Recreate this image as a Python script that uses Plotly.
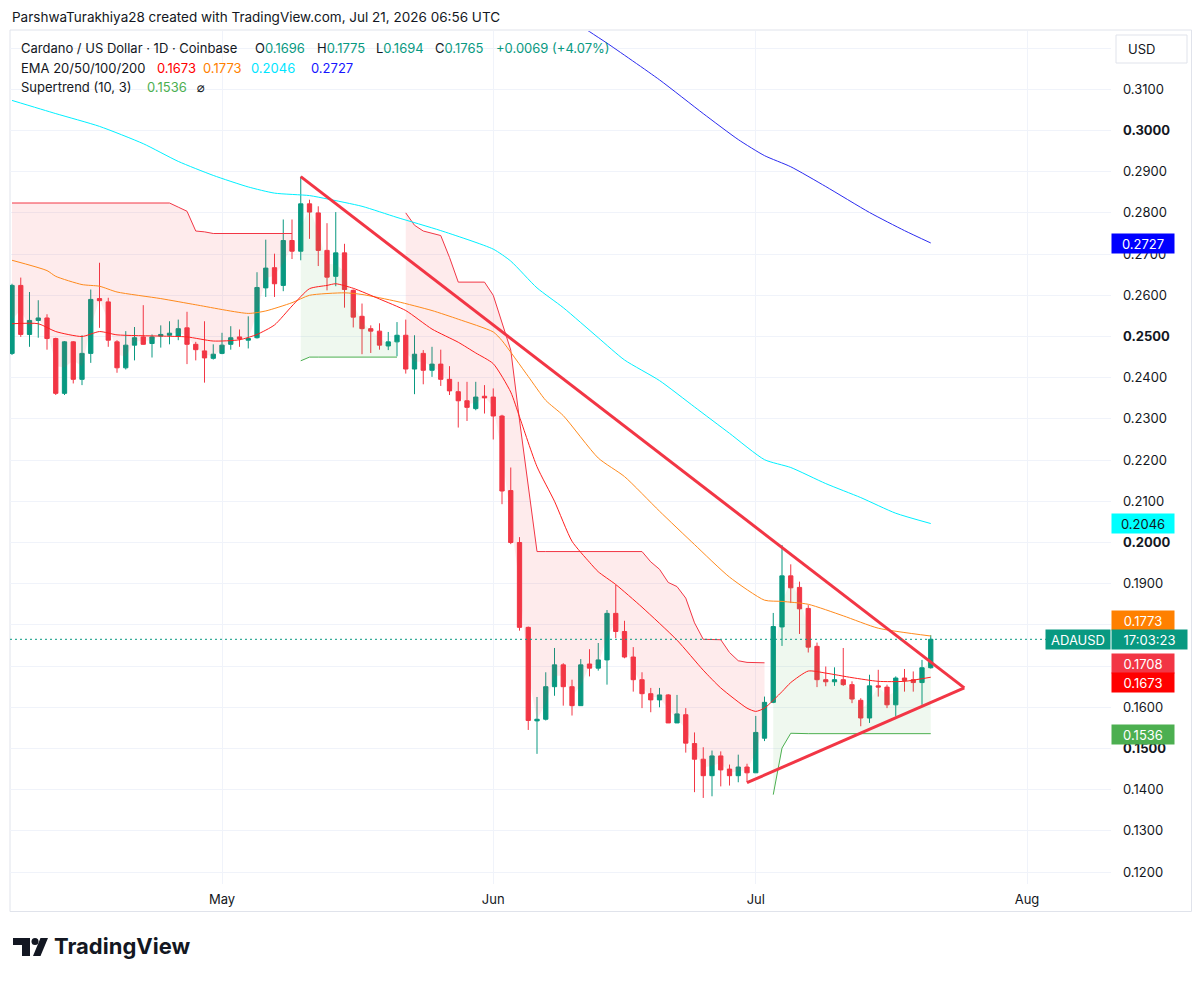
import plotly.graph_objects as go
import pandas as pd

# ---------------- data ----------------
start_date = "2026-04-07"

opens = [
    0.2459, 0.2624, 0.2505, 0.2539, 0.2545, 0.2495, 0.2362, 0.2487, 0.2396, 0.2459,
    0.2592, 0.2584, 0.2487, 0.2424, 0.2479, 0.2499, 0.2483, 0.2501, 0.2503, 0.2501,
    0.2521, 0.2481, 0.2465, 0.2447, 0.2459, 0.2481, 0.2499, 0.2491, 0.2497, 0.2618,
    0.2667, 0.2624, 0.2733, 0.2707, 0.2822, 0.2800, 0.2709, 0.2646, 0.2703, 0.2612,
    0.2549, 0.2519, 0.2513, 0.2477, 0.2487, 0.2503, 0.2421, 0.2459, 0.2418, 0.2433,
    0.2396, 0.2366, 0.2344, 0.2325, 0.2355, 0.2353, 0.2307, 0.2126, 0.2000, 0.1794,
    0.1567, 0.1571, 0.1650, 0.1703, 0.1650, 0.1604, 0.1705, 0.1695, 0.1715, 0.1828,
    0.1784, 0.1722, 0.1667, 0.1633, 0.1618, 0.1630, 0.1562, 0.1582, 0.1512, 0.1474,
    0.1434, 0.1482, 0.1450, 0.1434, 0.1455, 0.1441, 0.1525, 0.1612, 0.1795, 0.1919,
    0.1891, 0.1840, 0.1748, 0.1667, 0.1662, 0.1667, 0.1655, 0.1617, 0.1574, 0.1652,
    0.1649, 0.1606, 0.1671, 0.1667, 0.1660, 0.1696]

highs = [
    0.2628, 0.2643, 0.2608, 0.2588, 0.2554, 0.2497, 0.2489, 0.2489, 0.2503, 0.2614,
    0.2679, 0.2594, 0.2491, 0.2513, 0.2523, 0.2576, 0.2505, 0.2527, 0.2537, 0.2541,
    0.2560, 0.2487, 0.2537, 0.2481, 0.2509, 0.2525, 0.2517, 0.2549, 0.2656, 0.2735,
    0.2701, 0.2784, 0.2784, 0.2888, 0.2832, 0.2816, 0.2775, 0.2802, 0.2725, 0.2614,
    0.2580, 0.2527, 0.2532, 0.2511, 0.2535, 0.2541, 0.2503, 0.2467, 0.2475, 0.2468,
    0.2428, 0.2390, 0.2390, 0.2390, 0.2382, 0.2374, 0.2310, 0.2182, 0.2013, 0.1796,
    0.1625, 0.1685, 0.1744, 0.1707, 0.1667, 0.1717, 0.1741, 0.1756, 0.1836, 0.1897,
    0.1810, 0.1746, 0.1685, 0.1647, 0.1647, 0.1632, 0.1630, 0.1598, 0.1539, 0.1503,
    0.1495, 0.1493, 0.1461, 0.1485, 0.1463, 0.1579, 0.1626, 0.1829, 0.1994, 0.1947,
    0.1905, 0.1848, 0.1757, 0.1699, 0.1697, 0.1744, 0.1663, 0.1622, 0.1679, 0.1691,
    0.1655, 0.1675, 0.1693, 0.1687, 0.1715, 0.1775]

lows = [
    0.2455, 0.2499, 0.2475, 0.2497, 0.2468, 0.2358, 0.2358, 0.2386, 0.2382, 0.2436,
    0.2521, 0.2475, 0.2412, 0.2420, 0.2442, 0.2480, 0.2449, 0.2473, 0.2481, 0.2491,
    0.2433, 0.2442, 0.2388, 0.2444, 0.2457, 0.2468, 0.2475, 0.2471, 0.2495, 0.2596,
    0.2596, 0.2610, 0.2688, 0.2685, 0.2737, 0.2671, 0.2612, 0.2622, 0.2570, 0.2522,
    0.2457, 0.2460, 0.2468, 0.2467, 0.2452, 0.2410, 0.2360, 0.2384, 0.2402, 0.2380,
    0.2358, 0.2279, 0.2295, 0.2321, 0.2313, 0.2250, 0.2093, 0.1996, 0.1786, 0.1545,
    0.1487, 0.1568, 0.1628, 0.1604, 0.1580, 0.1604, 0.1675, 0.1689, 0.1655, 0.1768,
    0.1719, 0.1638, 0.1598, 0.1588, 0.1600, 0.1562, 0.1562, 0.1490, 0.1394, 0.1380,
    0.1384, 0.1408, 0.1410, 0.1418, 0.1418, 0.1441, 0.1518, 0.1610, 0.1749, 0.1853,
    0.1778, 0.1733, 0.1649, 0.1651, 0.1652, 0.1652, 0.1610, 0.1554, 0.1562, 0.1626,
    0.1598, 0.1578, 0.1638, 0.1638, 0.1606, 0.1694]

closes = [
    0.2624, 0.2505, 0.2539, 0.2545, 0.2495, 0.2362, 0.2487, 0.2396, 0.2459, 0.2590,
    0.2587, 0.2491, 0.2424, 0.2479, 0.2497, 0.2481, 0.2499, 0.2505, 0.2508, 0.2519,
    0.2481, 0.2468, 0.2448, 0.2457, 0.2479, 0.2497, 0.2494, 0.2495, 0.2619, 0.2666,
    0.2628, 0.2733, 0.2707, 0.2822, 0.2802, 0.2709, 0.2644, 0.2703, 0.2614, 0.2547,
    0.2519, 0.2513, 0.2479, 0.2487, 0.2503, 0.2421, 0.2457, 0.2418, 0.2433, 0.2396,
    0.2368, 0.2344, 0.2328, 0.2353, 0.2351, 0.2307, 0.2125, 0.2000, 0.1794, 0.1568,
    0.1571, 0.1650, 0.1703, 0.1650, 0.1604, 0.1703, 0.1695, 0.1715, 0.1828, 0.1784,
    0.1722, 0.1667, 0.1633, 0.1618, 0.1630, 0.1562, 0.1584, 0.1513, 0.1474, 0.1434,
    0.1482, 0.1448, 0.1434, 0.1455, 0.1441, 0.1539, 0.1612, 0.1796, 0.1919, 0.1890,
    0.1839, 0.1746, 0.1667, 0.1662, 0.1667, 0.1655, 0.1620, 0.1574, 0.1652, 0.1649,
    0.1606, 0.1671, 0.1665, 0.1660, 0.1696, 0.1765]

# Supertrend (10, 3): down-trend line and up-trend line, one value per candle (None = not drawn)
st_down = ([0.2824] * 19 + [0.2814, 0.2804, 0.2756, 0.2754] + [0.2750] * 10
           + [None] * 12
           + [0.2800, 0.2770, 0.2756, 0.2750, 0.2745, 0.2692, 0.2632, 0.2632, 0.2632, 0.2632,
              0.2600, 0.2535, 0.2467, 0.2297, 0.2135, 0.1978]
           + [0.1978] * 12
           + [0.1953, 0.1935, 0.1903, 0.1893, 0.1865, 0.1805, 0.1765, 0.1764, 0.1764, 0.1733,
              0.1713, 0.1709, 0.1709, 0.1708]
           + [None] * 19)
st_up = ([None] * 33
         + [0.2441] + [0.2450] * 11
         + [None] * 42
         + [0.1388, 0.1501, 0.1537] + [0.1536] * 16)

# EMA lines
ema20_dates = ["2026-04-07", "2026-04-10", "2026-04-12", "2026-04-15", "2026-04-17", "2026-04-19",
               "2026-04-24", "2026-04-27", "2026-04-30", "2026-05-03", "2026-05-05", "2026-05-07",
               "2026-05-09", "2026-05-11", "2026-05-13", "2026-05-14", "2026-05-16", "2026-05-19",
               "2026-05-22", "2026-05-25", "2026-05-28", "2026-05-30", "2026-06-01", "2026-06-03",
               "2026-06-04", "2026-06-06", "2026-06-08", "2026-06-10", "2026-06-12", "2026-06-13",
               "2026-06-15", "2026-06-18", "2026-06-22", "2026-06-25", "2026-06-27", "2026-06-30",
               "2026-07-01", "2026-07-02", "2026-07-04", "2026-07-05", "2026-07-07", "2026-07-09",
               "2026-07-12", "2026-07-15", "2026-07-18", "2026-07-21"]
ema20_vals = [0.2531, 0.2531, 0.2512, 0.2500, 0.2512, 0.2504, 0.2501, 0.2499, 0.2489, 0.2492,
              0.2505, 0.2528, 0.2574, 0.2616, 0.2624, 0.2628, 0.2617, 0.2591, 0.2563, 0.2518,
              0.2486, 0.2460, 0.2434, 0.2365, 0.2305, 0.2184, 0.2100, 0.2003, 0.1952, 0.1929,
              0.1898, 0.1843, 0.1763, 0.1690, 0.1647, 0.1598, 0.1590, 0.1598, 0.1638, 0.1660,
              0.1688, 0.1683, 0.1672, 0.1663, 0.1663, 0.1673]

ema50_dates = ["2026-04-07", "2026-04-11", "2026-04-12", "2026-04-15", "2026-04-17", "2026-04-19",
               "2026-04-24", "2026-04-28", "2026-05-04", "2026-05-06", "2026-05-09", "2026-05-11",
               "2026-05-15", "2026-05-17", "2026-05-21", "2026-05-25", "2026-05-28", "2026-06-01",
               "2026-06-02", "2026-06-05", "2026-06-07", "2026-06-09", "2026-06-13", "2026-06-16",
               "2026-06-20", "2026-06-24", "2026-06-28", "2026-07-02", "2026-07-04", "2026-07-07",
               "2026-07-11", "2026-07-15", "2026-07-21"]
ema50_vals = [0.2685, 0.2660, 0.2646, 0.2626, 0.2622, 0.2608, 0.2592, 0.2577, 0.2556, 0.2562,
              0.2582, 0.2600, 0.2606, 0.2602, 0.2585, 0.2563, 0.2542, 0.2511, 0.2490, 0.2403,
              0.2345, 0.2308, 0.2205, 0.2160, 0.2076, 0.1995, 0.1916, 0.1860, 0.1857, 0.1850,
              0.1822, 0.1792, 0.1773]

ema100_dates = ["2026-04-07", "2026-04-12", "2026-04-17", "2026-04-22", "2026-04-26", "2026-04-30",
                "2026-05-04", "2026-05-07", "2026-05-11", "2026-05-13", "2026-05-17", "2026-05-21",
                "2026-05-26", "2026-06-01", "2026-06-03", "2026-06-06", "2026-06-09", "2026-06-13",
                "2026-06-16", "2026-06-20", "2026-06-24", "2026-06-28", "2026-07-02", "2026-07-05",
                "2026-07-09", "2026-07-13", "2026-07-17", "2026-07-21"]
ema100_vals = [0.3073, 0.3041, 0.3010, 0.2968, 0.2925, 0.2891, 0.2863, 0.2848, 0.2842, 0.2834,
               0.2816, 0.2789, 0.2757, 0.2712, 0.2683, 0.2618, 0.2570, 0.2497, 0.2443, 0.2393,
               0.2329, 0.2265, 0.2201, 0.2182, 0.2143, 0.2109, 0.2071, 0.2046]

ema200_dates = ["2026-06-06", "2026-06-12", "2026-06-14", "2026-06-20", "2026-06-25", "2026-06-29",
                "2026-07-02", "2026-07-05", "2026-07-09", "2026-07-14", "2026-07-18", "2026-07-21"]
ema200_vals = [0.3330, 0.3240, 0.3212, 0.3123, 0.3041, 0.2978, 0.2939, 0.2912, 0.2864, 0.2801,
               0.2757, 0.2727]

# hand-drawn triangle lines
trend_down_dates = ["2026-05-10", "2026-07-24 20:00"]
trend_down_vals = [0.2888, 0.1647]
trend_up_dates = ["2026-06-30", "2026-07-24 20:00"]
trend_up_vals = [0.1417, 0.1647]

month_ticks = ["2026-05-01", "2026-06-01", "2026-07-01", "2026-08-01"]
month_labels = ["May", "Jun", "Jul", "Aug"]
price_ticks = [0.12, 0.13, 0.14, 0.15, 0.16, 0.17, 0.18, 0.19, 0.20, 0.21, 0.22,
               0.23, 0.24, 0.25, 0.26, 0.27, 0.28, 0.29, 0.30, 0.31, 0.32]
bold_ticks = [0.15, 0.20, 0.25, 0.30]
hidden_ticks = [0.17, 0.18, 0.32]

# axis-side value labels: (text, price-label centre, background, text colour)
last_ema20, last_ema50, last_ema100, last_ema200 = 0.1673, 0.1773, 0.2046, 0.2727
st_last_down, st_last_up = 0.1708, 0.1536

# ---------------- styling ----------------
UP = "#089981"
DOWN = "#F23645"
TXT = "#131722"
GRID = "#F0F3FA"
FONT = "Inter, 'DejaVu Sans', sans-serif"

W, H = 1204, 981
PL, PR, PT, PB = 10, 1111, 31, 884  # plot area in pixels


def fx(x):
    return (x - PL) / (PR - PL)


def fy(y):
    return (PB - y) / (PB - PT)


dates = pd.date_range(start_date, periods=len(opens), freq="D")
mid = [(o + c) / 2 for o, c in zip(opens, closes)]

fig = go.Figure()


def segments(vals):
    segs, cur = [], []
    for i, v in enumerate(vals):
        if v is None:
            if cur:
                segs.append(cur)
                cur = []
        else:
            cur.append(i)
    if cur:
        segs.append(cur)
    return segs


for vals, col, fillc in [(st_down, "#F23645", "rgba(242,54,69,0.10)"),
                         (st_up, "#4CAF50", "rgba(76,175,80,0.09)")]:
    for seg in segments(vals):
        xs = [dates[i] for i in seg]
        fig.add_trace(go.Scatter(x=xs, y=[mid[i] for i in seg], mode="lines",
                                 line=dict(width=0, color="rgba(0,0,0,0)"),
                                 hoverinfo="skip", showlegend=False))
        fig.add_trace(go.Scatter(x=xs, y=[vals[i] for i in seg], mode="lines",
                                 line=dict(color=col, width=1), fill="tonexty",
                                 fillcolor=fillc, hoverinfo="skip", showlegend=False))

for d, v, c in [(ema200_dates, ema200_vals, "#2B2BF0"),
                (ema100_dates, ema100_vals, "#00F0FF"),
                (ema50_dates, ema50_vals, "#FF8A1C"),
                (ema20_dates, ema20_vals, "#FF1F1F")]:
    fig.add_trace(go.Scatter(x=d, y=v, mode="lines",
                             line=dict(color=c, width=1, shape="spline", smoothing=0.6),
                             hoverinfo="skip", showlegend=False))

fig.add_trace(go.Candlestick(
    x=dates, open=opens, high=highs, low=lows, close=closes,
    increasing=dict(line=dict(color=UP, width=1), fillcolor=UP),
    decreasing=dict(line=dict(color=DOWN, width=1), fillcolor=DOWN),
    whiskerwidth=0, hoverinfo="skip", showlegend=False))

for d, v in [(trend_down_dates, trend_down_vals), (trend_up_dates, trend_up_vals)]:
    fig.add_trace(go.Scatter(x=d, y=v, mode="lines", line=dict(color="#F23645", width=3),
                             hoverinfo="skip", showlegend=False))

# ---------------- layout ----------------
ticktext = []
for t in price_ticks:
    if any(abs(t - h) < 1e-9 for h in hidden_ticks):
        ticktext.append("")
    elif any(abs(t - b) < 1e-9 for b in bold_ticks):
        ticktext.append("<b>%.4f</b>" % t)
    else:
        ticktext.append("%.4f" % t)

fig.update_layout(
    width=W, height=H,
    margin=dict(l=PL, r=W - PR, t=PT, b=H - PB),
    paper_bgcolor="white", plot_bgcolor="white",
    showlegend=False,
    font=dict(family=FONT, color=TXT, size=13),
)
fig.update_xaxes(
    type="date", range=["2026-04-06 18:30", "2026-08-10 14:24"],
    tickvals=month_ticks, ticktext=month_labels,
    showgrid=True, gridcolor=GRID, gridwidth=1, zeroline=False, showline=False,
    ticks="", ticklabelstandoff=6, tickfont=dict(size=13, color=TXT),
    rangeslider=dict(visible=False), fixedrange=True,
)
fig.update_yaxes(
    side="right", range=[0.11711, 0.32415],
    tickvals=price_ticks, ticktext=ticktext,
    showgrid=True, gridcolor=GRID, gridwidth=1, zeroline=False, showline=False,
    ticks="", ticklabelstandoff=11, tickfont=dict(size=13, color=TXT),
)

shapes = []
# outer frame
shapes.append(dict(type="rect", xref="paper", yref="paper", x0=fx(10), x1=fx(1191.5),
                   y0=fy(30), y1=fy(911.5), line=dict(color="#E0E3EB", width=1),
                   fillcolor="rgba(0,0,0,0)", layer="below"))
# last price dotted line
shapes.append(dict(type="line", xref="paper", yref="y", x0=0, x1=fx(1046),
                   y0=closes[-1], y1=closes[-1], line=dict(color=UP, width=1, dash="2px,3px")))
# USD box
shapes.append(dict(type="rect", xref="paper", yref="paper", x0=fx(1116), x1=fx(1187),
                   y0=fy(35), y1=fy(63), line=dict(color="#E0E3EB", width=1),
                   fillcolor="white"))
# TradingView logo
def pth(points):
    return "M " + " L ".join("%f,%f" % (fx(a), fy(b)) for a, b in points) + " Z"

shapes.append(dict(type="path", xref="paper", yref="paper",
                   path=pth([(13, 938), (30, 938), (30, 956), (22, 956), (22, 945), (13, 945)]),
                   fillcolor=TXT, line=dict(width=0)))
shapes.append(dict(type="circle", xref="paper", yref="paper", x0=fx(31.5), x1=fx(38.5),
                   y0=fy(938), y1=fy(945), fillcolor=TXT, line=dict(width=0)))
shapes.append(dict(type="path", xref="paper", yref="paper",
                   path=pth([(33, 956), (40.5, 938), (48, 938), (40.5, 956)]),
                   fillcolor=TXT, line=dict(width=0)))

ann = []


def text(x, y, s, size=13, color=TXT, anchor="left"):
    ann.append(dict(x=fx(x), y=fy(y), xref="paper", yref="paper", text=s, showarrow=False,
                    xanchor=anchor, yanchor="middle", font=dict(size=size, color=color, family=FONT)))


def g(s, c=UP):
    return "<span style='color:%s'>%s</span>" % (c, s)


text(10, 17, "ParshwaTurakhiya28 created with TradingView.com, Jul 21, 2026 06:56 UTC", size=13.5)
text(19, 48, "Cardano / US Dollar · 1D · Coinbase")
text(253, 48, "O" + g("%.4f" % opens[-1]))
text(315, 48, "H" + g("%.4f" % highs[-1]))
text(374, 48, "L" + g("%.4f" % lows[-1]))
text(433, 48, "C" + g("%.4f" % closes[-1]))
text(494, 48, g("+%.4f (+%.2f%%)" % (closes[-1] - closes[-2], (closes[-1] / closes[-2] - 1) * 100)))
text(19, 67.5, "EMA 20/50/100/200")
text(155, 67.5, g("%.4f" % last_ema20, "#FF0000"))
text(201, 67.5, g("%.4f" % last_ema50, "#FF8000"))
text(249, 67.5, g("%.4f" % last_ema100, "#00E5FF"))
text(309, 67.5, g("%.4f" % last_ema200, "#1515FF"))
text(19, 87, "Supertrend (10, 3)")
text(145, 87, g("%.4f" % st_last_up, "#4CAF50"))
text(195, 87, "⌀")

text(1126, 49, "USD", size=13)

# price-scale labels
def label(cx, cy, s, bg, fg="white", w=60):
    ann.append(dict(x=fx(cx), y=fy(cy), xref="paper", yref="paper", text=s, showarrow=False,
                    xanchor="center", yanchor="middle", bgcolor=bg, width=w, height=17,
                    borderpad=1, font=dict(size=13, color=fg, family=FONT)))


label(1143, 243, "%.4f" % last_ema200, "#0000FF")
label(1143, 523.5, "%.4f" % last_ema100, "#00FFFF", fg=TXT)
label(1143, 620.5, "%.4f" % last_ema50, "#FF8000")
label(1078, 639.7, "ADAUSD", UP, w=62)
label(1149.5, 639.7, "17:03:23", UP, w=73)
label(1143, 663, "%.4f" % st_last_down, "#F23645")
label(1143, 682, "%.4f" % last_ema20, "#FF0000")
label(1143, 734, "%.4f" % st_last_up, "#4CAF50")

text(52, 946.5, "<b>TradingView</b>", size=22)

fig.update_layout(shapes=shapes, annotations=ann)
fig.write_html("out.html")
